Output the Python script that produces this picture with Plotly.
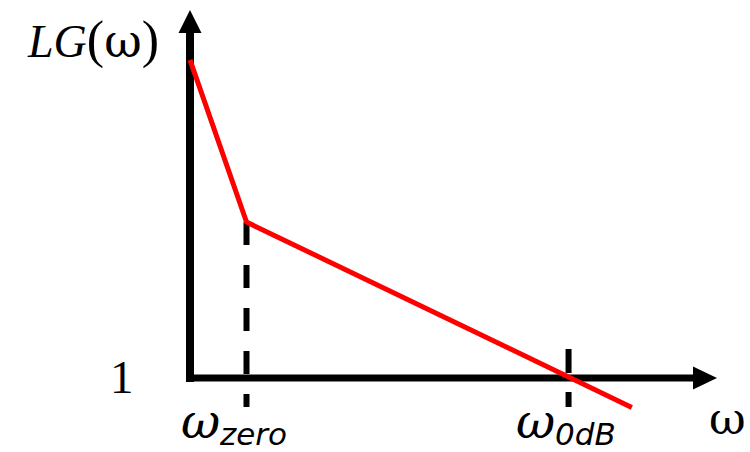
import plotly.graph_objects as go

# Asymptotic loop-gain magnitude (log-log sketch, arbitrary units)
w_pts = [0.0, 1.0, 7.82]          # log-frequency of the segment end points
lg_pts = [5.63, 2.76, -0.52]      # log |LG| at those points (0 -> gain of 1)
w_zero = 1.0                      # zero frequency
w_0db = 6.7                       # crossover frequency (|LG| = 1)

W, H = 750, 452
S = 56.5                          # pixels per unit on both axes
X0, Y0 = 190, 378                 # pixel position of the origin


def px(x):
    return x / W


def py(y):
    return 1 - y / H


xr = [-X0 / S, (W - X0) / S]
yr = [-(H - Y0) / S, Y0 / S]

fig = go.Figure()

# dashed markers at the corner frequencies
tick = 29 / S
fig.add_trace(go.Scatter(x=[w_zero, w_zero], y=[lg_pts[1], -tick], mode="lines",
                         line=dict(color="black", width=6, dash="23px,20px"),
                         hoverinfo="skip", showlegend=False))
fig.add_trace(go.Scatter(x=[w_0db, w_0db], y=[tick, -tick], mode="lines",
                         line=dict(color="black", width=6, dash="24px,19px"),
                         hoverinfo="skip", showlegend=False))

# loop gain asymptotes
fig.add_trace(go.Scatter(x=w_pts, y=lg_pts, mode="lines",
                         line=dict(color="#ff0000", width=5),
                         hoverinfo="skip", showlegend=False))

# axes with arrow heads
ya_top = (Y0 - 33) / S
ya_tip = (Y0 - 10) / S
xa_end = (693 - X0) / S
xa_tip = (717 - X0) / S
hw = 11.5 / S
shapes = [
    dict(type="line", x0=0, x1=0, y0=-4 / S, y1=ya_top, layer="below",
         line=dict(color="black", width=8)),
    dict(type="line", x0=-4 / S, x1=xa_end, y0=0, y1=0, layer="below",
         line=dict(color="black", width=7)),
    dict(type="path", layer="below", fillcolor="black", line=dict(width=0),
         path=f"M {-hw},{ya_top} L {hw},{ya_top} L 0,{ya_tip} Z"),
    dict(type="path", layer="below", fillcolor="black", line=dict(width=0),
         path=f"M {xa_end},{-hw} L {xa_end},{hw} L {xa_tip},0 Z"),
]

serif = "Liberation Serif"
omega_font = "DejaVu Serif"
sans = "DejaVu Sans"
ann = [
    dict(x=px(93), y=py(40),
         text="<i>LG</i><span style='font-size:52px'>(</span>"
              f"<span style='font-family:{omega_font};font-size:46px'>ω</span>"
              "<span style='font-size:52px'>)</span>",
         font=dict(family=serif, size=46, color="black")),
    dict(x=px(122), y=py(377), text="1",
         font=dict(family=serif, size=47, color="black")),
    dict(x=px(200), y=py(421), text="<i>ω</i>",
         font=dict(family=omega_font, size=48, color="black")),
    dict(x=px(253), y=py(434), text="<i>zero</i>",
         font=dict(family=sans, size=31, color="black")),
    dict(x=px(535), y=py(421), text="<i>ω</i>",
         font=dict(family=omega_font, size=48, color="black")),
    dict(x=px(585), y=py(434), text="<i>0dB</i>",
         font=dict(family=sans, size=31, color="black")),
    dict(x=px(727), y=py(418), text="ω",
         font=dict(family=omega_font, size=45, color="black")),
]
for a in ann:
    a.update(xref="paper", yref="paper", showarrow=False,
             xanchor="center", yanchor="middle")

fig.update_layout(
    width=W, height=H, margin=dict(l=0, r=0, t=0, b=0),
    paper_bgcolor="white", plot_bgcolor="white",
    xaxis=dict(range=xr, visible=False, showgrid=False, zeroline=False, fixedrange=True),
    yaxis=dict(range=yr, visible=False, showgrid=False, zeroline=False, fixedrange=True),
    shapes=shapes, annotations=ann,
)

fig.write_html("out.html")
